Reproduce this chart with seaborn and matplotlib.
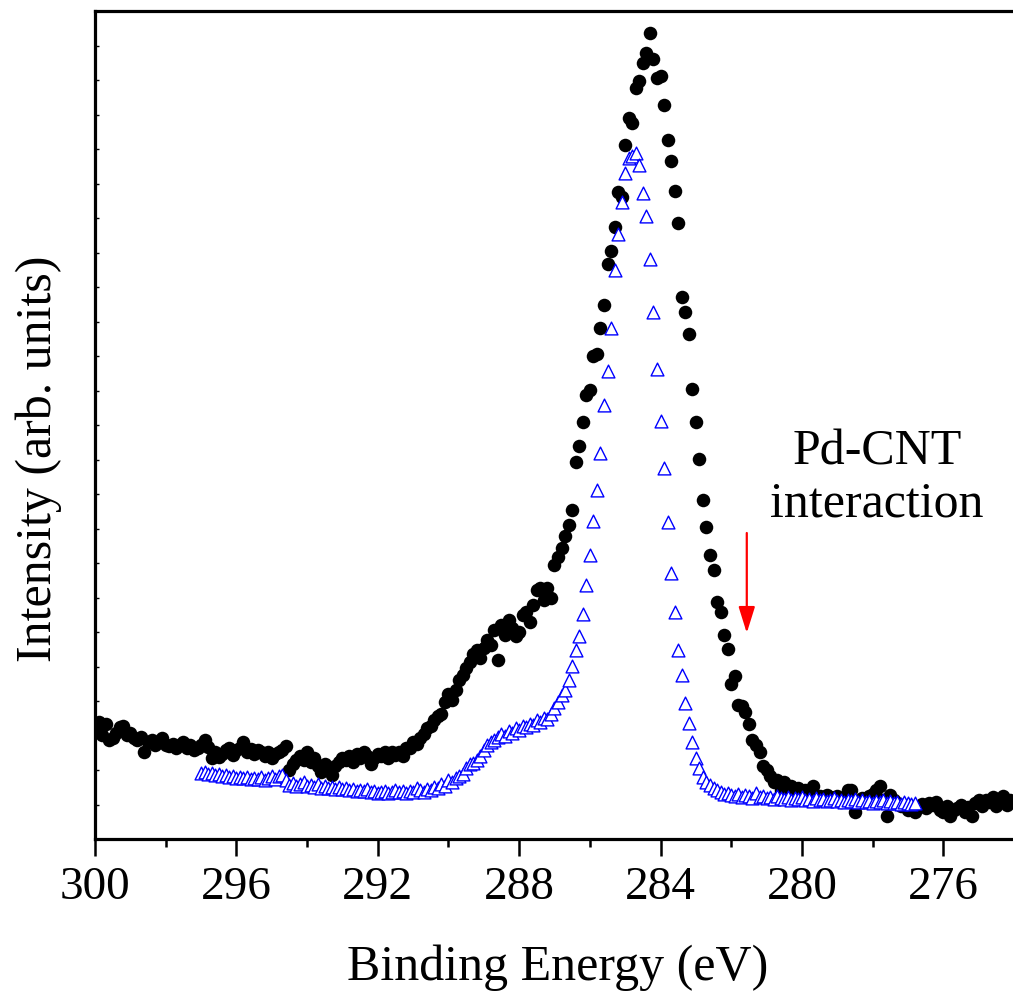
import numpy as np
import pandas as pd
import matplotlib
matplotlib.use("Agg")
import matplotlib.pyplot as plt
import seaborn as sns
from matplotlib.ticker import MultipleLocator

# ---------------- data ----------------
# Pd-CNT sample (filled black circles), binding energy 300.0 -> 274.0 eV, 0.1 eV step
pdcnt_start, pdcnt_stop, pdcnt_n = 300.0, 274.0, 261
pdcnt_intensity = [
    109, 117, 104, 115, 99, 101, 106, 112, 113, 104,
    106, 101, 99, 102, 87, 97, 99, 94, 97, 101,
    94, 93, 95, 91, 94, 97, 91, 94, 89, 91,
    94, 99, 92, 81, 87, 82, 85, 89, 91, 84,
    89, 91, 97, 87, 90, 85, 89, 87, 83, 87,
    81, 85, 87, 89, 93, 69, 75, 79, 83, 79,
    87, 77, 81, 73, 67, 75, 71, 64, 73, 77,
    81, 79, 83, 77, 85, 81, 87, 83, 75, 81,
    85, 83, 87, 81, 87, 84, 87, 83, 91, 91,
    97, 95, 101, 105, 111, 113, 119, 123, 125, 137,
    145, 139, 149, 159, 164, 171, 177, 185, 189, 181,
    191, 199, 194, 209, 179, 214, 204, 219, 211, 203,
    207, 224, 227, 217, 234, 249, 251, 239, 251, 241,
    274, 282, 291, 303, 314, 329, 377, 393, 417, 444,
    449, 483, 485, 511, 534, 575, 588, 612, 647, 642,
    694, 721, 716, 751, 758, 776, 786, 806, 780, 761,
    763, 734, 699, 678, 648, 616, 542, 527, 505, 450,
    417, 380, 339, 312, 284, 269, 237, 227, 204, 190,
    155, 163, 134, 133, 127, 115, 99, 94, 87, 73,
    69, 63, 57, 59, 49, 57, 47, 53, 44, 51,
    47, 49, 44, 53, 41, 43, 39, 44, 42, 39,
    43, 37, 41, 49, 49, 27, 37, 41, 37, 43,
    45, 49, 53, 39, 23, 44, 39, 36, 33, 34,
    29, 31, 27, 33, 35, 31, 36, 34, 37, 29,
    27, 33, 23, 29, 31, 34, 27, 32, 23, 36,
    39, 33, 39, 37, 42, 33, 39, 43, 34, 39,
    37,
]

# pristine CNT (open blue triangles), binding energy 297.0 -> 276.8 eV, 0.1 eV step
cnt_start, cnt_stop, cnt_n = 297.0, 276.8, 203
cnt_intensity = [
    66, 67, 65, 66, 64, 65, 63, 64, 62, 63,
    61, 62, 61, 62, 60, 61, 60, 62, 59, 61,
    63, 60, 63, 64, 59, 54, 56, 53, 55, 57,
    53, 54, 52, 55, 51, 53, 51, 52, 50, 52,
    50, 51, 49, 50, 48, 49, 48, 50, 47, 48,
    46, 47, 48, 46, 47, 49, 47, 48, 46, 48,
    47, 51, 49, 47, 50, 49, 52, 51, 55, 53,
    59, 57, 61, 63, 65, 71, 75, 76, 79, 83,
    89, 94, 97, 99, 102, 105, 103, 108, 106, 111,
    109, 113, 112, 115, 114, 119, 117, 121, 120, 125,
    131, 137, 144, 149, 159, 173, 189, 203, 225, 254,
    284, 318, 349, 386, 434, 468, 511, 569, 605, 637,
    666, 681, 683, 686, 674, 646, 623, 580, 527, 470,
    418, 371, 317, 266, 227, 189, 164, 136, 116, 97,
    81, 71, 62, 57, 54, 51, 49, 47, 45, 46,
    44, 43, 45, 42, 44, 43, 41, 46, 42, 43,
    41, 42, 40, 43, 41, 40, 42, 39, 41, 40,
    42, 39, 40, 38, 41, 39, 40, 38, 39, 41,
    38, 39, 37, 39, 38, 40, 37, 39, 37, 38,
    36, 38, 37, 39, 36, 38, 36, 37, 35, 37,
    36, 35, 36,
]

xticks = [300, 296, 292, 288, 284, 280, 276]
xlabel = "Binding Energy (eV)"
ylabel = "Intensity (arb. units)"
annot_text = "Pd-CNT\ninteraction"

pdcnt_df = pd.DataFrame({
    "energy": np.round(np.linspace(pdcnt_start, pdcnt_stop, pdcnt_n), 1),
    "intensity": pdcnt_intensity,
})
cnt_df = pd.DataFrame({
    "energy": np.round(np.linspace(cnt_start, cnt_stop, cnt_n), 1),
    "intensity": cnt_intensity,
})

# ---------------- style ----------------
sns.set_style("ticks")
plt.rcParams["font.family"] = ["Liberation Serif", "DejaVu Serif"]
plt.rcParams["text.color"] = "black"
plt.rcParams["axes.labelcolor"] = "black"
plt.rcParams["xtick.color"] = "black"
plt.rcParams["ytick.color"] = "black"
plt.rcParams["axes.edgecolor"] = "black"

fig = plt.figure(figsize=(10.13, 9.98), dpi=100)
ax = fig.add_axes([95 / 1013, 159 / 998, 919 / 1013, 828 / 998])

sns.scatterplot(data=pdcnt_df, x="energy", y="intensity", ax=ax,
                marker="o", s=95, color="black", linewidth=0, zorder=2)
sns.scatterplot(data=cnt_df, x="energy", y="intensity", ax=ax,
                marker="^", s=85, color="white", edgecolor="#0000ff",
                linewidth=1.0, zorder=3)

ax.set_xlim(300, 274)
ax.set_ylim(0, 828)

ax.set_xticks(xticks)
ax.set_xticklabels([str(t) for t in xticks])
ax.xaxis.set_minor_locator(MultipleLocator(2))
ax.yaxis.set_major_locator(MultipleLocator(34.5))
ax.set_yticklabels([])

ax.tick_params(axis="x", which="major", direction="out", length=12, width=1.8,
               labelsize=34, pad=8, top=False, colors="black")
ax.tick_params(axis="x", which="minor", direction="out", length=6, width=1.8,
               top=False, colors="black")
ax.tick_params(axis="y", which="major", direction="in", length=3, width=1.0,
               left=True, right=False, labelleft=False, colors="black")

for side in ["left", "bottom", "top"]:
    ax.spines[side].set_linewidth(2.3)
    ax.spines[side].set_color("black")
ax.spines["right"].set_visible(False)

ax.set_xlabel(xlabel, fontsize=36, color="black")
ax.set_ylabel(ylabel, fontsize=36, color="black")
ax.xaxis.set_label_coords(0.503, -0.127)
ax.yaxis.set_label_coords(-0.036, 0.459)

ax.text(277.88, 361, annot_text, ha="center", va="center", fontsize=36,
        linespacing=1.15, color="black")
ax.annotate("", xy=(281.56, 206), xytext=(281.56, 306),
            arrowprops=dict(arrowstyle="-|>,head_length=0.8,head_width=0.25",
                            color="#ff0000", lw=1.6, mutation_scale=20,
                            shrinkA=0, shrinkB=0))

fig.savefig("out.png", dpi=100)
